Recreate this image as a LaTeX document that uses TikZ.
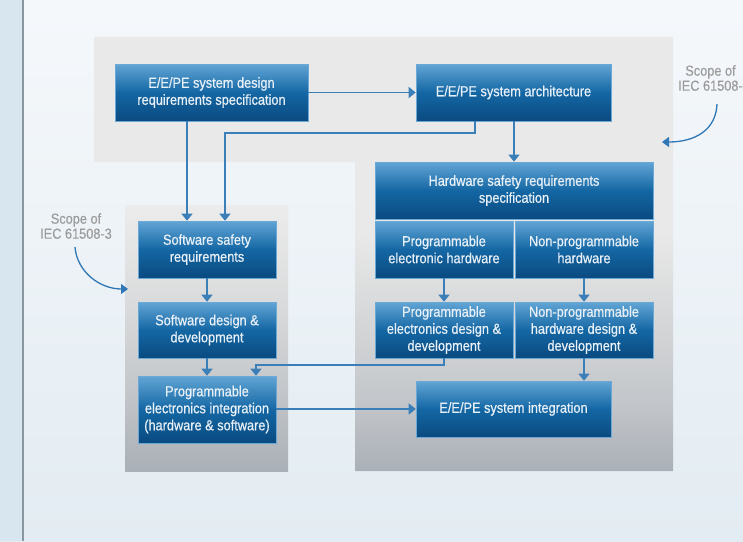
\documentclass[tikz,border=0pt]{standalone}
\usepackage{fontspec}
\setmainfont{Liberation Sans}[FakeStretch=0.88]
\newfontfamily\boxfont{Liberation Sans}[FakeStretch=0.88,FakeBold=0.6]
\newfontfamily\scopefont{Liberation Sans}[FakeStretch=0.88,FakeBold=0.3]
\usetikzlibrary{arrows.meta}
\definecolor{bgT}{HTML}{F5F8FB}
\definecolor{bgB}{HTML}{E3ECF2}
\definecolor{strip}{HTML}{D8E6EF}
\definecolor{stripline}{HTML}{8A96A0}
\definecolor{gB}{HTML}{AAB0B7}
\definecolor{gA}{HTML}{C3C6CA}
\definecolor{gM}{HTML}{D9DADB}
\definecolor{gT}{HTML}{E9E9E9}
\definecolor{sA}{HTML}{C6C9CC}
\definecolor{sM}{HTML}{DADBDC}
\definecolor{sT}{HTML}{ECECEC}
\definecolor{bT}{HTML}{62A5D5}
\definecolor{bM}{HTML}{1467A4}
\definecolor{bB}{HTML}{0A4A80}
\definecolor{bEdge}{HTML}{6CA8D6}
\definecolor{btext}{HTML}{E8F0F7}
\definecolor{link}{HTML}{3B7FB8}
\definecolor{scopetext}{HTML}{9B9B9B}
\definecolor{scopearrow}{HTML}{2F78B5}
\pgfdeclareverticalshading{bigreg}{100bp}{color(0bp)=(gB); color(25bp)=(gB); color(33bp)=(gA); color(44.5bp)=(gM); color(52.5bp)=(gT); color(75bp)=(gT); color(100bp)=(gT)}
\pgfdeclareverticalshading{swreg}{100bp}{color(0bp)=(gB); color(25bp)=(gB); color(42bp)=(sA); color(57bp)=(sM); color(75bp)=(sT); color(100bp)=(sT)}
\pgfdeclareverticalshading{bluebox}{100bp}{color(0bp)=(bB); color(25bp)=(bB); color(50bp)=(bM); color(75bp)=(bT); color(100bp)=(bT)}
\tikzset{
  blk/.style={rectangle, shading=bluebox, draw=bEdge, line width=0.6pt,
    text=btext, align=center, inner sep=2pt,
    font=\boxfont\fontsize{14.5}{17}\selectfont},
  arr/.style={draw=link, line width=1.4pt,
    -{Triangle[width=11pt,length=7pt]}},
  scopelbl/.style={text=scopetext, align=center, inner sep=0pt,
    font=\scopefont\fontsize{14.5}{15}\selectfont},
  scopearr/.style={draw=scopearrow, line width=1.3pt,
    -{Triangle[width=10pt,length=7pt]}}
}
\begin{document}
\begin{tikzpicture}[x=1pt,y=-1pt]
\useasboundingbox (0,0) rectangle (743,541);
% background
\shade[top color=bgT, bottom color=bgB] (0,0) rectangle (743,541);
\fill[strip] (0,0) rectangle (23,541);
\draw[stripline, line width=1.2pt] (23,0) -- (23,541);
% scope regions
\shade[shading=bigreg] (94,37) -- (673,37) -- (673,471) -- (355,471) -- (355,162) -- (94,162) -- cycle;
\shade[shading=swreg] (125,205) rectangle (288,471);
% boxes
\node[blk, minimum width=193pt, minimum height=57pt] (b1) at (211.5,92.5) {E/E/PE system design\\requirements specification};
\node[blk, minimum width=195pt, minimum height=57pt] (b2) at (513.5,92.5) {E/E/PE system architecture};
\node[blk, minimum width=278pt, minimum height=57pt] (b3) at (514,190.5) {Hardware safety requirements\\specification};
\node[blk, minimum width=138pt, minimum height=57pt] (b4) at (444,249.5) {Programmable\\electronic hardware};
\node[blk, minimum width=138pt, minimum height=57pt] (b5) at (584,249.5) {Non-programmable\\hardware};
\node[blk, minimum width=138pt, minimum height=56pt] (b6) at (444,330) {Programmable\\electronics design \&\\development};
\node[blk, minimum width=138pt, minimum height=56pt] (b7) at (584,330) {Non-programmable\\hardware design \&\\development};
\node[blk, minimum width=195pt, minimum height=56pt] (b8) at (513.5,409) {E/E/PE system integration};
\node[blk, minimum width=138pt, minimum height=57pt] (b9) at (207,249.5) {Software safety\\requirements};
\node[blk, minimum width=138pt, minimum height=56pt] (b10) at (207,330) {Software design \&\\development};
\node[blk, minimum width=138pt, minimum height=67pt] (b11) at (207,409.5) {Programmable\\electronics integration\\(hardware \& software)};
% helper coordinates
\coordinate (xa) at (187,0);
\coordinate (xb) at (225,0);
\coordinate (xc) at (475,133);
\coordinate (xd) at (256,365);
% connectors
\draw[arr] (b1) -- (b2);
\draw[arr] (xa |- b1.south) -- (xa |- b9.north);
\draw[arr] (xc |- b2.south) -- (xc) -- (xb |- xc) -- (xb |- b9.north);
\draw[arr] (b3.north |- b2.south) -- (b3.north);
\draw[arr] (b4) -- (b6);
\draw[arr] (b5) -- (b7);
\draw[arr] (b7.south) -- (b7.south |- b8.north);
\draw[arr] (b6.south) -- (b6.south |- xd) -- (xd) -- (xd |- b11.north);
\draw[arr] (b9) -- (b10);
\draw[arr] (b10) -- (b11);
\draw[arr] (b11.east |- b8.west) -- (b8.west);
% scope labels
\node[scopelbl] (s3) at (76,226) {Scope of\\IEC 61508-3};
\node[scopelbl, anchor=north west] (s2) at (678,65) {\makebox[49pt][c]{Scope of}\\IEC 61508-};
\coordinate (s3a) at (75,247);
\coordinate (s3b) at (128,289);
\coordinate (s2a) at (717,104);
\coordinate (s2b) at (662,142);
\draw[scopearr] (s3a) .. controls (77,272) and (100,289) .. (s3b);
\draw[scopearr] (s2a) .. controls (716,130) and (695,142) .. (s2b);
\end{tikzpicture}
\end{document}
